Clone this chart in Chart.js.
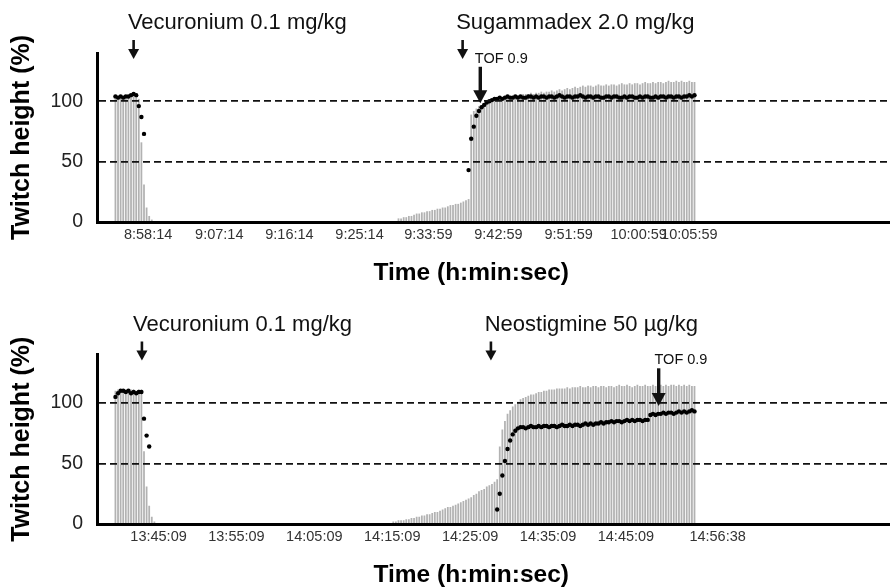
<!DOCTYPE html>
<html>
<head>
<meta charset="utf-8">
<title>Twitch height</title>
<script src="https://cdn.jsdelivr.net/npm/chart.js@4.4.1/dist/chart.umd.min.js"></script>
<style>
  body { margin: 0; background: #fff; }
  #wrap { position: relative; width: 893px; height: 588px; }
  #wrap canvas { position: absolute; left: 0; }
  #topChart { top: 0; }
  #bottomChart { top: 290px; }
</style>
</head>
<body>
<div id="wrap">
  <canvas id="topChart" width="893" height="290"></canvas>
  <canvas id="bottomChart" width="893" height="298"></canvas>
</div>
<script>
// one slot on the x axis = one stimulus, 20 s apart
const slotCount = 224;
const yTicks = [0, 50, 100];

// ---- vecuronium -> sugammadex ----
const topTwitchOnset = [102, 103, 102, 103, 102, 103, 103, 104, 103, 102, 66, 31, 12, 5, 2];
const topTwitchRecoveryStart = 109;
const topTwitchRecovery = [
  3, 3, 4, 4, 5, 5, 6, 7, 7, 8, 8, 9, 9, 10, 10, 11, 11, 12, 12, 13, 14, 14, 15, 15, 16, 17, 18, 19,
  89, 92, 94, 96, 97, 98, 99, 100, 101, 101,
  102, 102, 103, 103, 104, 104, 104, 105, 105, 105,
  106, 106, 106, 107, 106, 107, 107, 108, 107, 108,
  108, 109, 108, 109, 110, 109, 110, 111, 110, 111,
  112, 111, 112, 113, 112, 113, 113, 112, 113, 114,
  113, 113, 114, 113, 114, 114, 113, 114, 115, 114,
  114, 115, 114, 115, 115, 114, 115, 116, 115, 115,
  116, 115, 116, 116, 115, 116, 117, 116, 116, 117,
  116, 117, 116, 116, 117, 116, 116
];
const topTofOnset = [104, 103, 104, 103, 104, 104, 105, 106, 105, 96, 87, 73];
const topTofRecoveryStart = 136;
const topTofRecovery = [
  43, 69, 79, 88, 92, 95, 97, 99, 100, 101,
  102, 102, 103, 102, 103, 104, 103, 103, 104, 103,
  104, 103, 103, 104, 104, 103, 104, 103, 104, 104,
  103, 104, 104, 103, 104, 105, 104, 103, 104, 104,
  103, 104, 104, 105, 104, 103, 104, 104, 103, 104,
  104, 103, 103, 104, 104, 103, 104, 104, 103, 103,
  104, 103, 104, 104, 103, 103, 104, 103, 104, 104,
  103, 103, 104, 103, 104, 104, 103, 104, 104, 103,
  104, 104, 103, 104, 104, 105, 104, 105
];
const topTickAt = [12.6, 40, 67, 94, 120.5, 147.5, 174.5, 201.5, 221];
const topTickText = ['8:58:14', '9:07:14', '9:16:14', '9:25:14', '9:33:59', '9:42:59', '9:51:59', '10:00:59', '10:05:59'];

// ---- vecuronium -> neostigmine ----
const bottomTwitchOnset = [110, 111, 111, 110, 111, 110, 111, 111, 110, 111, 111, 60, 31, 15, 6, 2];
const bottomTwitchRecoveryStart = 107;
const bottomTwitchRecovery = [
  2, 2, 3, 3, 3, 4, 4, 5, 5, 6, 6, 7, 7, 8, 8, 9, 10, 10, 11, 12,
  13, 14, 14, 15, 16, 17, 18, 19, 20, 21, 22, 24, 25, 27, 28, 29, 31, 32, 33, 35, 37,
  64, 78, 85, 91, 94, 97, 99, 101, 103, 104,
  105, 106, 107, 107, 108, 109, 109, 110, 110, 111,
  111, 111, 112, 112, 112, 112, 113, 112, 113, 113,
  113, 114, 113, 113, 114, 113, 114, 114, 113, 114,
  114, 113, 114, 114, 113, 114, 115, 114, 114, 115,
  114, 113, 114, 115, 114, 114, 115, 114, 114, 115,
  114, 115, 115, 114, 115, 114, 115, 115, 114, 115,
  114, 115, 114, 115, 114, 114
];
const bottomTofOnset = [105, 108, 110, 110, 109, 110, 108, 109, 108, 109, 109, 87, 73, 64];
const bottomTofRecoveryStart = 147;
const bottomTofRecovery = [
  12, 25, 40, 52, 62, 69, 74, 77, 79, 80,
  80, 79, 80, 81, 80, 80, 81, 80, 81, 81,
  80, 81, 81, 80, 81, 82, 81, 81, 82, 81,
  82, 82, 81, 82, 83, 82, 83, 82, 83, 83,
  84, 83, 84, 84, 85, 84, 85, 85, 84, 85,
  86, 85, 86, 85, 86, 86, 85, 86, 86, 90,
  91, 90, 91, 91, 92, 91, 92, 92, 91, 92,
  93, 92, 93, 92, 93, 94, 93
];
const bottomTickAt = [16.6, 46.6, 76.6, 106.6, 136.6, 166.6, 196.6, 231.9];
const bottomTickText = ['13:45:09', '13:55:09', '14:05:09', '14:15:09', '14:25:09', '14:35:09', '14:45:09', '14:56:38'];

const family = '"Liberation Sans", Arial, Helvetica, sans-serif';
Chart.defaults.font.family = family;

// puts the pieces of a series on the slot grid, empty elsewhere
function fillSlots(pieces) {
  const out = new Array(slotCount).fill(null);
  pieces.forEach(([start, vals]) => {
    vals.forEach((v, i) => { out[start + i] = v; });
  });
  return out;
}

function drawArrow(ctx, x, y0, y1, shaft, headW, headH) {
  ctx.lineWidth = shaft;
  ctx.beginPath();
  ctx.moveTo(x, y0);
  ctx.lineTo(x, y1 - headH + 1);
  ctx.stroke();
  ctx.beginPath();
  ctx.moveTo(x - headW / 2, y1 - headH);
  ctx.lineTo(x + headW / 2, y1 - headH);
  ctx.lineTo(x, y1);
  ctx.closePath();
  ctx.fill();
}

// drug arrows, the TOF 0.9 marker and the time axis title
const notesPlugin = {
  id: 'notes',
  afterDraw(chart, args, opts) {
    const ctx = chart.ctx;
    const area = chart.chartArea;
    const xs = chart.scales.x;
    const ys = chart.scales.y;
    ctx.save();
    ctx.fillStyle = '#111';
    ctx.strokeStyle = '#111';
    ctx.textAlign = 'left';
    ctx.textBaseline = 'alphabetic';

    for (const d of opts.doses) {
      drawArrow(ctx, xs.getPixelForValue(d.at), area.top - 13, area.top + 6, 2.6, 11, 10);
      ctx.font = '22px ' + family;
      ctx.fillText(d.text, xs.getPixelForValue(d.textAt), area.top - 24);
    }

    const t = opts.tof;
    const tail = ys.getPixelForValue(t.from);
    drawArrow(ctx, xs.getPixelForValue(t.at), tail, ys.getPixelForValue(t.to), 3.4, 14, 13);
    ctx.font = '14.5px ' + family;
    ctx.fillText(t.text, xs.getPixelForValue(t.textAt), tail - 4);

    ctx.fillStyle = '#000';
    ctx.font = 'bold 24.5px ' + family;
    ctx.textAlign = 'center';
    ctx.fillText('Time (h:min:sec)', area.left + area.width * 0.4725, area.bottom + 58);
    ctx.restore();
  }
};

function makeChart(canvasId, p) {
  const slots = Array.from({ length: slotCount }, (_, i) => i);
  return new Chart(document.getElementById(canvasId), {
    type: 'bar',
    data: {
      labels: slots,
      datasets: [
        {
          type: 'line',
          data: p.tof,
          showLine: false,
          pointRadius: 2.2,
          pointBorderWidth: 0,
          pointBackgroundColor: '#000',
          order: 0
        },
        {
          type: 'bar',
          data: p.twitch,
          backgroundColor: '#b2b2b2',
          borderWidth: 0,
          barPercentage: 0.68,
          categoryPercentage: 1,
          order: 1
        }
      ]
    },
    options: {
      responsive: false,
      animation: false,
      layout: { padding: { top: p.padTop, left: 0, right: 0, bottom: 0 } },
      plugins: {
        legend: { display: false },
        tooltip: { enabled: false },
        notes: p.notes
      },
      scales: {
        x: {
          type: 'linear',
          offset: false,
          min: -7.1,
          max: 297.9,
          grid: { display: false, drawTicks: false },
          border: { display: true, color: '#000', width: 3, z: 1 },
          afterBuildTicks: scale => { scale.ticks = p.tickAt.map(v => ({ value: v })); },
          afterFit: scale => { scale.height = p.xHeight; },
          ticks: {
            autoSkip: false,
            maxRotation: 0,
            minRotation: 0,
            padding: 4,
            color: '#333',
            font: { size: 14.5 },
            callback: (value, index) => p.tickText[index]
          }
        },
        y: {
          min: 0,
          max: 140,
          afterBuildTicks: scale => { scale.ticks = yTicks.map(v => ({ value: v })); },
          afterFit: scale => { scale.width = 97; },
          grid: {
            drawTicks: false,
            lineWidth: 1.7,
            z: 1,
            color: ctx => ctx.tick && ctx.tick.value === 0 ? 'rgba(0,0,0,0)' : '#111'
          },
          border: { display: true, color: '#000', width: 3, dash: [7, 4], z: 1 },
          ticks: {
            padding: 14,
            color: '#222',
            font: { size: 19.5 }
          },
          title: {
            display: true,
            text: 'Twitch height (%)',
            color: '#000',
            font: { size: 25, weight: 'bold' },
            padding: { top: 7, bottom: 0 }
          }
        }
      }
    },
    plugins: [notesPlugin]
  });
}

makeChart('topChart', {
  twitch: fillSlots([[0, topTwitchOnset], [topTwitchRecoveryStart, topTwitchRecovery]]),
  tof: fillSlots([[0, topTofOnset], [topTofRecoveryStart, topTofRecovery]]),
  tickAt: topTickAt,
  tickText: topTickText,
  padTop: 53,
  xHeight: 68,
  notes: {
    doses: [
      { at: 7.0, textAt: 4.8, text: 'Vecuronium 0.1 mg/kg' },
      { at: 133.7, textAt: 131.2, text: 'Sugammadex 2.0 mg/kg' }
    ],
    tof: { at: 140.5, textAt: 138.4, from: 128.6, to: 98.3, text: 'TOF 0.9' }
  }
});

makeChart('bottomChart', {
  twitch: fillSlots([[0, bottomTwitchOnset], [bottomTwitchRecoveryStart, bottomTwitchRecovery]]),
  tof: fillSlots([[0, bottomTofOnset], [bottomTofRecoveryStart, bottomTofRecovery]]),
  tickAt: bottomTickAt,
  tickText: bottomTickText,
  padTop: 64.5,
  xHeight: 64,
  notes: {
    doses: [
      { at: 10.2, textAt: 6.8, text: 'Vecuronium 0.1 mg/kg' },
      { at: 144.6, textAt: 142.2, text: 'Neostigmine 50 µg/kg' }
    ],
    tof: { at: 209.2, textAt: 207.6, from: 128.6, to: 97.4, text: 'TOF 0.9' }
  }
});
</script>
</body>
</html>
